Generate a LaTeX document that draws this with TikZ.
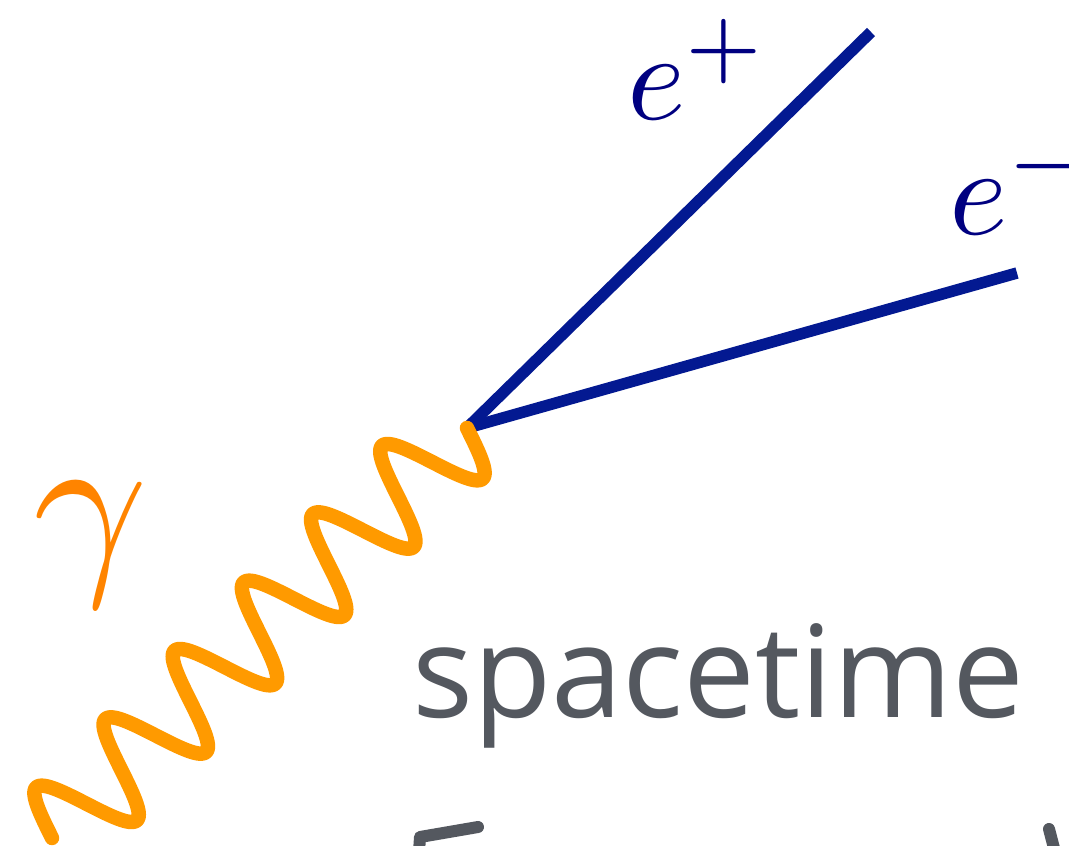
\documentclass[tikz,border=0pt]{standalone}
\usepackage{fontspec}
\newfontfamily\handfont{Open Sans}
\definecolor{fermionblue}{RGB}{3,25,145}
\definecolor{labelblue}{RGB}{0,0,128}
\definecolor{photonorange}{RGB}{255,154,0}
\definecolor{gammaorange}{RGB}{255,132,0}
\definecolor{handgray}{RGB}{84,88,95}
\tikzset{
  fermion/.style={draw=fermionblue, line width=11.5pt, line cap=butt},
  photon/.style={draw=photonorange, line width=14.5pt, line cap=round, line join=round},
  elabel/.style={text=labelblue, scale=12.5, inner sep=0pt, anchor=base west},
  glabel/.style={text=gammaorange, scale=20, inner sep=0pt, anchor=base west},
  handlabel/.style={text=handgray, inner sep=0pt, anchor=base west, font=\handfont\fontsize{128}{150}\selectfont},
  handstroke/.style={draw=handgray, line width=12pt, line cap=round, line join=round}
}
\begin{document}
\begin{tikzpicture}[x=1pt,y=-1pt]
\useasboundingbox (0,0) rectangle (1069,846);
\clip (0,0) rectangle (1069,846);
\coordinate (v) at (467,428);
\coordinate (ep) at (871,32);
\coordinate (em) at (1017,273);
\coordinate (g) at (50,838);
% fermions
\draw[fermion] (v) -- (ep);
\draw[fermion] (v) -- (em);
% photon
\draw[photon] plot[domain=0:583.37, samples=701]
  ({467-0.71138*\x+0.70281*47*sin(3.70264*\x)},
   {428+0.70281*\x+0.71138*47*sin(3.70264*\x)});
% labels
\node[elabel] (lep) at (625,119) {$e^+$};
\node[elabel] (lem) at (947,234) {$e^-$};
\node[glabel] (lg) at (30,568) {$\gamma$};
\node[handlabel] (st) at (412,717) {spacetime};
% partial strokes at the bottom
\draw[handstroke] (419,852) -- (420,837) -- (478,827);
\draw[handstroke] (1049,829) -- (1055,852);
\end{tikzpicture}
\end{document}
